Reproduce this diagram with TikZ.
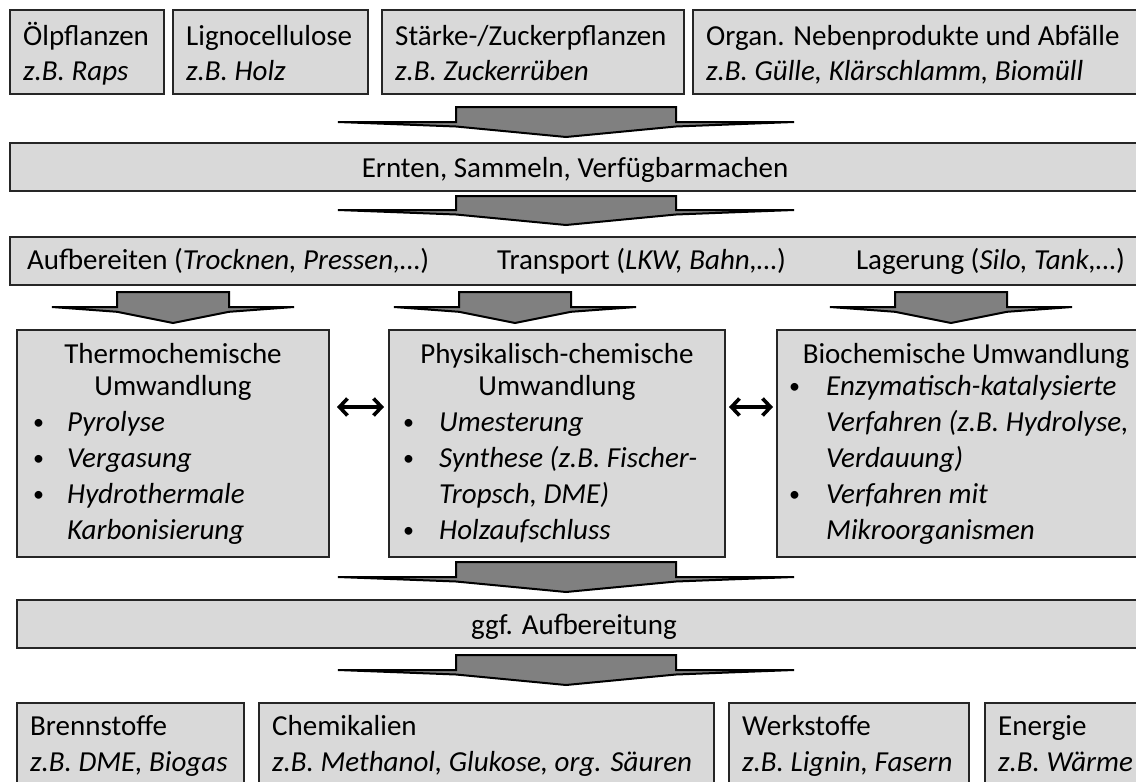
\documentclass[tikz,border=0pt]{standalone}
\usepackage{fontspec}
\setmainfont{Carlito}
\usetikzlibrary{arrows.meta}

\definecolor{panelfill}{HTML}{D9D9D9}
\definecolor{arrowfill}{HTML}{808080}

% rectangular panel given by its corners (x1,y1) and (x2,y2)
\newcommand\panel[5]{%
  \node[panel, anchor=north west, minimum width={#4-#2}, minimum height={#5-#3}] (#1) at (#2,#3) {};}
% flat block arrow: centre x, stem top, shoulder, tip, half width, half stem width
\newcommand\blockarrow[6]{%
  \draw[blockarrow] ({#1-#6},#2) -- ({#1+#6},#2) -- ({#1+#6},#3) -- ({#1+#5},#3)
    -- ({#1+#6},{#3+0.3*(#4-#3)}) -- (#1,#4) -- ({#1-#6},{#3+0.3*(#4-#3)})
    -- ({#1-#5},#3) -- ({#1-#6},#3) -- cycle;}

\tikzset{
  panel/.style={draw=black!85, line width=1.3pt, fill=panelfill, inner sep=0pt, outer sep=0pt},
  blockarrow/.style={draw=black, line width=2pt, fill=arrowfill, line join=miter},
  label/.style={font=\fontsize{29}{35}\selectfont, inner sep=0pt, anchor=base west},
  clabel/.style={label, anchor=base},
  dot/.style={label, font=\fontsize{22}{22}\selectfont},
  twoway/.style={line width=3.6pt, line cap=round,
    {Straight Barb[length=8pt,width=17pt]}-{Straight Barb[length=8pt,width=17pt]}},
}

\begin{document}
\begin{tikzpicture}[x=1pt,y=-1pt]
\clip (0,0) rectangle (1136,782);

% --- raw materials ---
\panel{oel}{10}{10}{164}{94}
\panel{ligno}{173}{10}{368}{94}
\panel{zucker}{382}{10}{684}{94}
\panel{abfall}{693}{10}{1160}{94}
\node[label] (oel1) at (23,45) {Ölpflanzen};
\node[label] (oel2) at (23,80) {\itshape z.B. Raps};
\node[label] (ligno1) at (186,45) {Lignocellulose};
\node[label] (ligno2) at (186,80) {\itshape z.B. Holz};
\node[label] (zucker1) at (395,45) {Stärke-/Zuckerpflanzen};
\node[label] (zucker2) at (395,80) {\itshape z.B. Zuckerrüben};
\node[label] (abfall1) at (706,45) {Organ. Nebenprodukte und Abfälle};
\node[label] (abfall2) at (706,80) {\itshape z.B. Gülle, Klärschlamm, Biomüll};

\blockarrow{566}{107}{122}{137}{228}{110}

% --- supply chain ---
\panel{ernte}{10}{143}{1160}{191}
\node[clabel] (ernte1) at (575,177) {Ernten, Sammeln, Verfügbarmachen};

\blockarrow{566}{196}{210}{225}{228}{110}

\panel{logistik}{10}{237}{1160}{285}
\node[label] (aufb) at (27,269) {Aufbereiten (\textit{Trocknen, Pressen,…})};
\node[label] (transp) at (497,269) {Transport (\textit{LKW, Bahn,…})};
\node[label, anchor=base east] (lager) at (1125,269) {Lagerung (\textit{Silo, Tank,…})};

\blockarrow{173}{292}{307}{323}{121}{56}
\blockarrow{515}{292}{307}{323}{121}{56}
\blockarrow{951}{292}{307}{323}{121}{56}

% --- conversion routes ---
\panel{thermo}{17}{330}{329}{557}
\panel{phys}{389}{330}{725}{557}
\panel{bio}{777}{330}{1160}{557}

\node[clabel] (thermo1) at (173,363) {Thermochemische};
\node[clabel] (thermo2) at (173,395) {Umwandlung};
\node[dot] (thermob1) at (33,429) {•};
\node[dot] (thermob2) at (33,465) {•};
\node[dot] (thermob3) at (33,501) {•};
\node[label] (thermo3) at (67,431) {\itshape Pyrolyse};
\node[label] (thermo4) at (67,467) {\itshape Vergasung};
\node[label] (thermo5) at (67,503) {\itshape Hydrothermale};
\node[label] (thermo6) at (67,539) {\itshape Karbonisierung};

\node[clabel] (phys1) at (557,363) {Physikalisch-chemische};
\node[clabel] (phys2) at (557,395) {Umwandlung};
\node[dot] (physb1) at (403,429) {•};
\node[dot] (physb2) at (403,465) {•};
\node[dot] (physb3) at (403,537) {•};
\node[label] (phys3) at (439,431) {\itshape Umesterung};
\node[label] (phys4) at (439,467) {\itshape Synthese (z.B. Fischer-};
\node[label] (phys5) at (439,503) {\itshape Tropsch, DME)};
\node[label] (phys6) at (439,539) {\itshape Holzaufschluss};

\node[clabel] (bio1) at (966,363) {Biochemische Umwandlung};
\node[dot] (biob1) at (789,393) {•};
\node[dot] (biob2) at (789,501) {•};
\node[label] (bio2) at (826,395) {\itshape Enzymatisch-katalysierte};
\node[label] (bio3) at (826,431) {\itshape Verfahren (z.B. Hydrolyse,};
\node[label] (bio4) at (826,467) {\itshape Verdauung)};
\node[label] (bio5) at (826,503) {\itshape Verfahren mit};
\node[label] (bio6) at (826,539) {\itshape Mikroorganismen};

\draw[twoway] ([xshift=8pt,yshift=36.5pt]thermo.east) -- ([xshift=-5pt,yshift=36.5pt]phys.west);
\draw[twoway] ([xshift=4pt,yshift=36.5pt]phys.east) -- ([xshift=-4pt,yshift=36.5pt]bio.west);

\blockarrow{566}{562}{577}{592}{228}{110}

\panel{nach}{17}{600}{1160}{648}
\node[clabel] (nach1) at (574,634) {ggf. Aufbereitung};

\blockarrow{566}{655}{670}{685}{228}{110}

% --- products ---
\panel{brenn}{17}{703}{244}{800}
\panel{chem}{259}{703}{714}{800}
\panel{werk}{729}{703}{969}{800}
\panel{energie}{985}{703}{1160}{800}
\node[label] (brenn1) at (30,735) {Brennstoffe};
\node[label] (brenn2) at (30,771) {\itshape z.B. DME, Biogas};
\node[label] (chem1) at (272,735) {Chemikalien};
\node[label] (chem2) at (272,771) {\itshape z.B. Methanol, Glukose, org. Säuren};
\node[label] (werk1) at (742,735) {Werkstoffe};
\node[label] (werk2) at (742,771) {\itshape z.B. Lignin, Fasern};
\node[label] (energie1) at (998,735) {Energie};
\node[label] (energie2) at (998,771) {\itshape z.B. Wärme};
\end{tikzpicture}
\end{document}
